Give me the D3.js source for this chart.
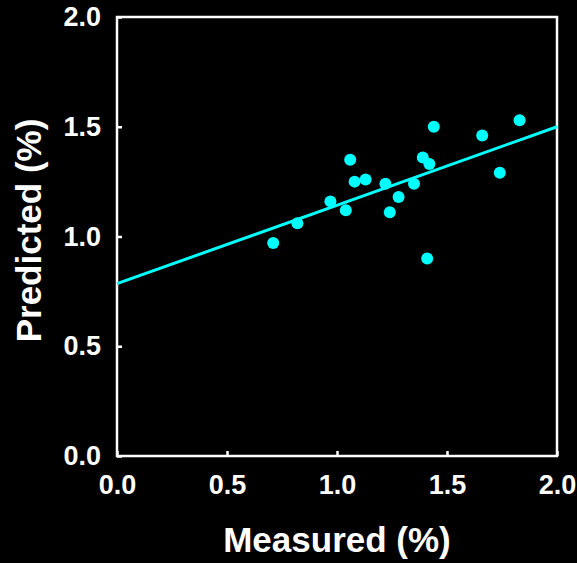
<!DOCTYPE html>
<head>
  <meta charset="utf-8">
  <script src="https://d3js.org/d3.v7.min.js"></script>
  <style>
  body { margin: 0; background: #000; }
  text { font-family: Arial, "Liberation Sans", sans-serif; font-weight: bold; fill: #fff; }
  </style>
</head>
<body>
  <script>
    // measured vs predicted values
    var measured  = [0.71, 0.82, 0.97, 1.04, 1.06, 1.08, 1.13, 1.22, 1.28, 1.24, 1.35, 1.39, 1.42, 1.44, 1.41, 1.66, 1.74, 1.83];
    var predicted = [0.97, 1.06, 1.16, 1.12, 1.35, 1.25, 1.26, 1.24, 1.18, 1.11, 1.24, 1.36, 1.33, 1.50, 0.90, 1.46, 1.29, 1.53];
    var fitX = [0, 2];
    var fitY = [0.785, 1.50];
    var tickValues = [0, 0.5, 1.0, 1.5, 2.0];

    var margin = {top: 17, right: 20, bottom: 107, left: 117},
        width = 577 - margin.left - margin.right,
        height = 563 - margin.top - margin.bottom;

    var svg = d3.select("body").append("svg")
        .attr("width", 577)
        .attr("height", 563)
      .append("g")
        .attr("transform", "translate(" + margin.left + "," + margin.top + ")");

    var x = d3.scaleLinear().domain([0, 2]).range([0, width]);
    var y = d3.scaleLinear().domain([0, 2]).range([height, 0]);

    // frame
    svg.append("rect")
      .attr("width", width).attr("height", height)
      .attr("fill", "none").attr("stroke", "#fff").attr("stroke-width", 2.5);

    // x axis
    var xAxis = svg.append("g")
      .attr("transform", "translate(0," + height + ")")
      .call(d3.axisBottom(x).tickValues(tickValues).tickFormat(d3.format(".1f")).tickSizeInner(-5).tickSizeOuter(0).tickPadding(19));
    xAxis.select(".domain").remove();
    xAxis.selectAll(".tick line").attr("stroke", "#fff").attr("stroke-width", 2.5);
    xAxis.selectAll(".tick text").attr("font-size", "27px").attr("fill", "#fff");

    // y axis
    var yAxis = svg.append("g")
      .call(d3.axisLeft(y).tickValues(tickValues).tickFormat(d3.format(".1f")).tickSizeInner(-5).tickSizeOuter(0).tickPadding(16));
    yAxis.select(".domain").remove();
    yAxis.selectAll(".tick line").attr("stroke", "#fff").attr("stroke-width", 2.5);
    yAxis.selectAll(".tick text").attr("font-size", "27px").attr("fill", "#fff");

    // regression line
    svg.append("line")
      .attr("x1", x(fitX[0])).attr("y1", y(fitY[0]))
      .attr("x2", x(fitX[1])).attr("y2", y(fitY[1]))
      .attr("stroke", "#00ffff").attr("stroke-width", 3);

    // points
    svg.selectAll("circle")
      .data(measured)
      .enter().append("circle")
      .attr("cx", function(d) { return x(d); })
      .attr("cy", function(d, i) { return y(predicted[i]); })
      .attr("r", 6)
      .attr("fill", "#00ffff");

    // axis titles
    svg.append("text")
      .attr("x", width / 2).attr("y", height + 96)
      .attr("text-anchor", "middle")
      .attr("font-size", "35px")
      .text("Measured (%)");

    svg.append("text")
      .attr("transform", "translate(" + (-76) + "," + (height / 2 - 6) + ") rotate(-90)")
      .attr("text-anchor", "middle")
      .attr("font-size", "35px")
      .text("Predicted (%)");
  </script>
</body>
